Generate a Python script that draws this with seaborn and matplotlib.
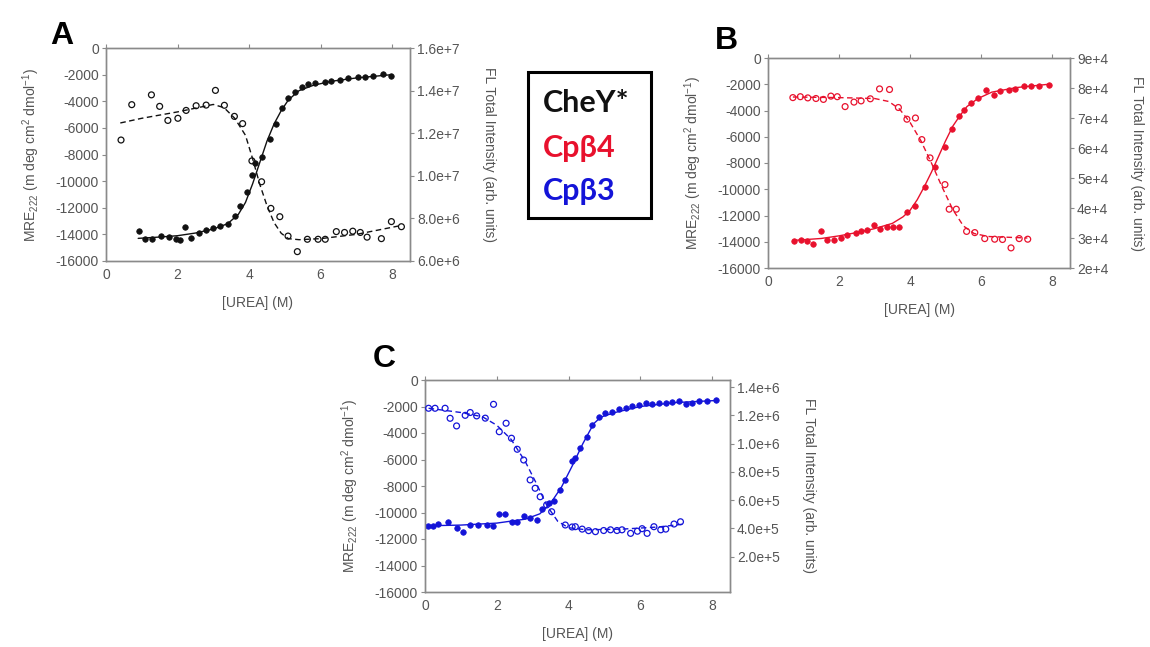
import matplotlib
matplotlib.use("Agg")
import matplotlib.pyplot as plt
import numpy as np
import pandas as pd
import seaborn as sns
from matplotlib.patches import Rectangle
from matplotlib.ticker import FixedLocator, FixedFormatter

# ---------------- data ----------------
# panel A (CheY*) : filled = MRE222 (left axis), open = FL intensity (right axis)
a_cd_x = [0.92, 1.1, 1.29, 1.53, 1.76, 1.95, 2.08, 2.2, 2.37, 2.6, 2.8, 3.0, 3.2, 3.4, 3.6,
          3.76, 3.95, 4.09, 4.16, 4.37, 4.58, 4.74, 4.91, 5.09, 5.28, 5.47, 5.65, 5.84, 6.12,
          6.3, 6.54, 6.77, 7.05, 7.24, 7.47, 7.75, 7.98]
a_cd_y = [-13750, -14350, -14350, -14100, -14200, -14350, -14400, -13450, -14300, -13900,
          -13650, -13550, -13400, -13250, -12600, -11900, -10800, -9550, -8660, -8170, -6860,
          -5700, -4530, -3780, -3280, -2900, -2700, -2600, -2550, -2450, -2370, -2280, -2200,
          -2200, -2100, -1950, -2100]
a_fl_x = [0.42, 0.72, 1.27, 1.5, 1.73, 2.01, 2.24, 2.52, 2.8, 3.06, 3.31, 3.59, 3.82, 4.08,
          4.35, 4.61, 4.86, 5.09, 5.35, 5.63, 5.93, 6.13, 6.44, 6.67, 6.9, 7.11, 7.3, 7.7,
          7.98, 8.26]
a_fl_y = [1.168e7, 1.334e7, 1.380e7, 1.326e7, 1.260e7, 1.270e7, 1.307e7, 1.329e7, 1.332e7,
          1.401e7, 1.331e7, 1.279e7, 1.245e7, 1.070e7, 0.972e7, 0.847e7, 0.808e7, 0.717e7,
          0.644e7, 0.702e7, 0.702e7, 0.702e7, 0.738e7, 0.734e7, 0.740e7, 0.734e7, 0.712e7,
          0.705e7, 0.785e7, 0.761e7]
a_cd_fit_x = [0.9, 1.5, 2.0, 2.5, 3.0, 3.4, 3.7, 3.9, 4.1, 4.3, 4.5, 4.7, 4.9, 5.1, 5.4, 5.8,
              6.3, 7.0, 8.0]
a_cd_fit_y = [-14300, -14200, -14100, -13900, -13600, -13200, -12500, -11600, -10200, -8600,
              -7000, -5700, -4700, -3900, -3200, -2800, -2500, -2250, -2000]
a_fl_fit_x = [0.4, 1.0, 2.0, 3.0, 3.3, 3.6, 3.9, 4.1, 4.3, 4.5, 4.7, 4.9, 5.1, 5.4, 6.0, 7.0, 8.2]
a_fl_fit_y = [1.248e7, 1.27e7, 1.30e7, 1.335e7, 1.32e7, 1.27e7, 1.19e7, 1.08e7, 0.96e7,
              0.86e7, 0.78e7, 0.73e7, 0.705e7, 0.70e7, 0.705e7, 0.725e7, 0.765e7]

# panel B (Cpb4)
b_cd_x = [0.72, 0.93, 1.09, 1.28, 1.5, 1.67, 1.86, 2.05, 2.23, 2.47, 2.62, 2.79, 2.98, 3.14,
          3.35, 3.53, 3.7, 3.91, 4.13, 4.41, 4.69, 4.97, 5.18, 5.37, 5.53, 5.72, 5.9, 6.14,
          6.37, 6.54, 6.77, 6.96, 7.2, 7.39, 7.63, 7.91]
b_cd_y = [-13950, -13900, -13950, -14200, -13150, -13900, -13900, -13700, -13500, -13300,
          -13200, -13100, -12700, -13000, -12900, -12850, -12850, -11700, -11300, -9800,
          -8270, -6750, -5420, -4400, -3950, -3430, -3050, -2420, -2800, -2550, -2420, -2350,
          -2160, -2150, -2100, -2050]
b_fl_x = [0.7, 0.91, 1.12, 1.35, 1.56, 1.77, 1.95, 2.17, 2.42, 2.62, 2.88, 3.14, 3.42, 3.67,
          3.91, 4.15, 4.33, 4.56, 4.98, 5.1, 5.3, 5.59, 5.82, 6.1, 6.38, 6.6, 6.84, 7.07, 7.31]
b_fl_y = [7.68e4, 7.71e4, 7.67e4, 7.65e4, 7.62e4, 7.73e4, 7.71e4, 7.38e4, 7.53e4, 7.57e4,
          7.64e4, 7.97e4, 7.95e4, 7.35e4, 6.96e4, 7.00e4, 6.28e4, 5.67e4, 4.78e4, 3.96e4,
          3.96e4, 3.22e4, 3.18e4, 2.98e4, 2.96e4, 2.95e4, 2.67e4, 2.98e4, 2.96e4]
b_cd_fit_x = [0.7, 1.5, 2.0, 2.5, 3.0, 3.5, 3.8, 4.0, 4.2, 4.4, 4.6, 4.8, 5.0, 5.2, 5.4, 5.6,
              5.9, 6.3, 7.0, 7.9]
b_cd_fit_y = [-13900, -13750, -13550, -13300, -13000, -12600, -12100, -11600, -10800, -9800,
              -8700, -7500, -6300, -5200, -4400, -3700, -3100, -2600, -2250, -2000]
b_fl_fit_x = [0.7, 2.0, 3.0, 3.4, 3.7, 4.0, 4.3, 4.6, 4.9, 5.2, 5.5, 5.8, 6.2, 7.3]
b_fl_fit_y = [7.7e4, 7.68e4, 7.65e4, 7.55e4, 7.3e4, 6.85e4, 6.25e4, 5.5e4, 4.7e4, 3.95e4,
              3.4e4, 3.15e4, 3.05e4, 3.0e4]

# panel C (Cpb3)
c_cd_x = [0.08, 0.23, 0.37, 0.65, 0.88, 1.07, 1.26, 1.49, 1.72, 1.9, 2.05, 2.23, 2.42, 2.56,
          2.75, 2.93, 3.12, 3.26, 3.45, 3.6, 3.77, 3.91, 4.1, 4.19, 4.33, 4.52, 4.66, 4.84,
          5.03, 5.21, 5.4, 5.59, 5.77, 5.96, 6.15, 6.33, 6.52, 6.71, 6.89, 7.08, 7.26, 7.45,
          7.63, 7.87, 8.1]
c_cd_y = [-11050, -11000, -10900, -10750, -11200, -11500, -10950, -10950, -10950, -11050,
          -10100, -10100, -10700, -10700, -10300, -10450, -10600, -9700, -9300, -9100, -8300,
          -7550, -6100, -5900, -5160, -4280, -3400, -2770, -2520, -2400, -2200, -2100, -1960,
          -1900, -1760, -1800, -1750, -1700, -1630, -1600, -1800, -1750, -1560, -1560, -1500]
c_fl_x = [0.1, 0.28, 0.56, 0.7, 0.88, 1.12, 1.26, 1.44, 1.68, 1.91, 2.07, 2.26, 2.41, 2.57,
          2.75, 2.93, 3.07, 3.21, 3.39, 3.53, 3.91, 4.1, 4.19, 4.38, 4.56, 4.75, 4.98, 5.17,
          5.35, 5.49, 5.73, 5.92, 6.05, 6.19, 6.38, 6.57, 6.71, 6.94, 7.12]
c_fl_y = [1.25e6, 1.25e6, 1.25e6, 1.179e6, 1.125e6, 1.20e6, 1.22e6, 1.196e6, 1.18e6, 1.278e6,
          1.084e6, 1.144e6, 1.038e6, 0.96e6, 0.884e6, 0.743e6, 0.684e6, 0.624e6, 0.566e6,
          0.518e6, 0.424e6, 0.41e6, 0.412e6, 0.395e6, 0.384e6, 0.377e6, 0.385e6, 0.39e6,
          0.385e6, 0.39e6, 0.365e6, 0.38e6, 0.398e6, 0.365e6, 0.412e6, 0.39e6, 0.395e6,
          0.431e6, 0.447e6]
c_cd_fit_x = [0.1, 1.0, 2.0, 2.8, 3.2, 3.5, 3.8, 4.1, 4.4, 4.7, 4.9, 5.3, 6.0, 7.0, 8.1]
c_cd_fit_y = [-11000, -10950, -10800, -10500, -10100, -9300, -8100, -6500, -4800, -3300,
              -2800, -2450, -2000, -1700, -1550]
c_fl_fit_x = [0.1, 1.0, 1.6, 2.0, 2.4, 2.8, 3.1, 3.4, 3.7, 4.0, 4.5, 5.5, 6.5, 7.2]
c_fl_fit_y = [1.25e6, 1.22e6, 1.19e6, 1.13e6, 1.03e6, 0.87e6, 0.72e6, 0.56e6, 0.45e6,
              0.405e6, 0.39e6, 0.395e6, 0.41e6, 0.43e6]

# axes ticks / labels
x_ticks = [0, 2, 4, 6, 8]
mre_ticks = [0, -2000, -4000, -6000, -8000, -10000, -12000, -14000, -16000]
a_right_ticks = [6e6, 8e6, 1e7, 1.2e7, 1.4e7, 1.6e7]
a_right_labels = ["6.0e+6", "8.0e+6", "1.0e+7", "1.2e+7", "1.4e+7", "1.6e+7"]
b_right_ticks = [2e4, 3e4, 4e4, 5e4, 6e4, 7e4, 8e4, 9e4]
b_right_labels = ["2e+4", "3e+4", "4e+4", "5e+4", "6e+4", "7e+4", "8e+4", "9e+4"]
c_right_ticks = [2e5, 4e5, 6e5, 8e5, 1e6, 1.2e6, 1.4e6]
c_right_labels = ["2.0e+5", "4.0e+5", "6.0e+5", "8.0e+5", "1.0e+6", "1.2e+6", "1.4e+6"]
legend_names = ["CheY*", "Cp\u03b24", "Cp\u03b23"]

BLACK = "#111111"
RED = "#e8112d"
BLUE = "#1414d8"
TICK_C = "#555555"
SPINE_C = "#8a8a8a"

sns.set_theme(style="white")
plt.rcParams["font.family"] = ["Liberation Sans", "DejaVu Sans"]
plt.rcParams["axes.unicode_minus"] = False
plt.rcParams["mathtext.fontset"] = "custom"
plt.rcParams["mathtext.rm"] = "Liberation Sans"
plt.rcParams["mathtext.it"] = "Liberation Sans:italic"

fig = plt.figure(figsize=(11.5, 6.47), dpi=100)
fig.patch.set_facecolor("white")


def panel(rect, color, cd, fl, cd_fit, fl_fit, r_lim, r_ticks, r_labels):
    ax = fig.add_axes(rect)
    ax2 = ax.twinx()
    sns.lineplot(x=cd_fit[0], y=cd_fit[1], ax=ax, color=color, lw=1.0, sort=False)
    sns.scatterplot(x=cd[0], y=cd[1], ax=ax, color=color, s=16, edgecolor=color,
                    linewidth=0.5, marker="o", zorder=3)
    sns.lineplot(x=fl_fit[0], y=fl_fit[1], ax=ax2, color=color, lw=1.0, sort=False,
                 linestyle=(0, (4, 2.5)))
    sns.scatterplot(x=fl[0], y=fl[1], ax=ax2, s=18, facecolors="none", edgecolor=color,
                    color=color, linewidth=0.9, marker="o", zorder=3)
    ax.set_xlim(0, 8.5)
    ax.set_ylim(-16000, 0)
    ax2.set_ylim(*r_lim)
    ax.xaxis.set_major_locator(FixedLocator(x_ticks))
    ax.yaxis.set_major_locator(FixedLocator(mre_ticks))
    ax2.yaxis.set_major_locator(FixedLocator(r_ticks))
    ax2.yaxis.set_major_formatter(FixedFormatter(r_labels))
    for a in (ax, ax2):
        for sp in a.spines.values():
            sp.set_color(SPINE_C)
            sp.set_linewidth(1.0)
        a.tick_params(colors=SPINE_C, labelcolor=TICK_C, labelsize=10, length=3, width=0.8,
                      direction="out", pad=2)
    ax.tick_params(axis="x", top=True)
    ax.set_xlabel("[UREA] (M)", color=TICK_C, fontsize=10, labelpad=10)
    ax.set_ylabel("MRE$_{222}$ (m deg cm$^{2}$ dmol$^{-1}$)", color=TICK_C, fontsize=10,
                  labelpad=10)
    ax2.set_ylabel("FL Total Intensity (arb. units)", color=TICK_C, fontsize=10,
                   rotation=270, labelpad=26)
    ax.grid(False)
    ax2.grid(False)
    return ax, ax2


W, H = 1150, 647


def rect(left, right, top, bottom):
    return [left / W, 1 - bottom / H, (right - left) / W, (bottom - top) / H]


panel(rect(106, 410, 48, 261), BLACK, (a_cd_x, a_cd_y), (a_fl_x, a_fl_y),
      (a_cd_fit_x, a_cd_fit_y), (a_fl_fit_x, a_fl_fit_y), (6e6, 1.6e7),
      a_right_ticks, a_right_labels)
panel(rect(768, 1070, 58, 268), RED, (b_cd_x, b_cd_y), (b_fl_x, b_fl_y),
      (b_cd_fit_x, b_cd_fit_y), (b_fl_fit_x, b_fl_fit_y), (2e4, 9e4),
      b_right_ticks, b_right_labels)
panel(rect(425, 730, 380, 592), BLUE, (c_cd_x, c_cd_y), (c_fl_x, c_fl_y),
      (c_cd_fit_x, c_cd_fit_y), (c_fl_fit_x, c_fl_fit_y), (-5e4, 1.45e6),
      c_right_ticks, c_right_labels)

# panel letters
for letter, px, py in [("A", 50, 36), ("B", 715, 41), ("C", 373, 359)]:
    fig.text(px / W, 1 - py / H, letter, fontsize=23, fontweight="bold", color="black",
             ha="left", va="center", family=["Liberation Sans", "DejaVu Sans"])

# legend box
fig.add_artist(Rectangle((528 / W, 1 - 218 / H), (651 - 528) / W, (218 - 72) / H,
                         transform=fig.transFigure, fill=False, edgecolor="black", lw=2.2))
for name, col, py in zip(legend_names, [BLACK, RED, BLUE], [103, 148, 191]):
    fig.text(543 / W, 1 - py / H, name, fontsize=22, fontweight="bold", color=col,
             ha="left", va="center", family=["Lato", "Open Sans", "DejaVu Sans"])

fig.savefig("out.png", dpi=100, facecolor="white")
